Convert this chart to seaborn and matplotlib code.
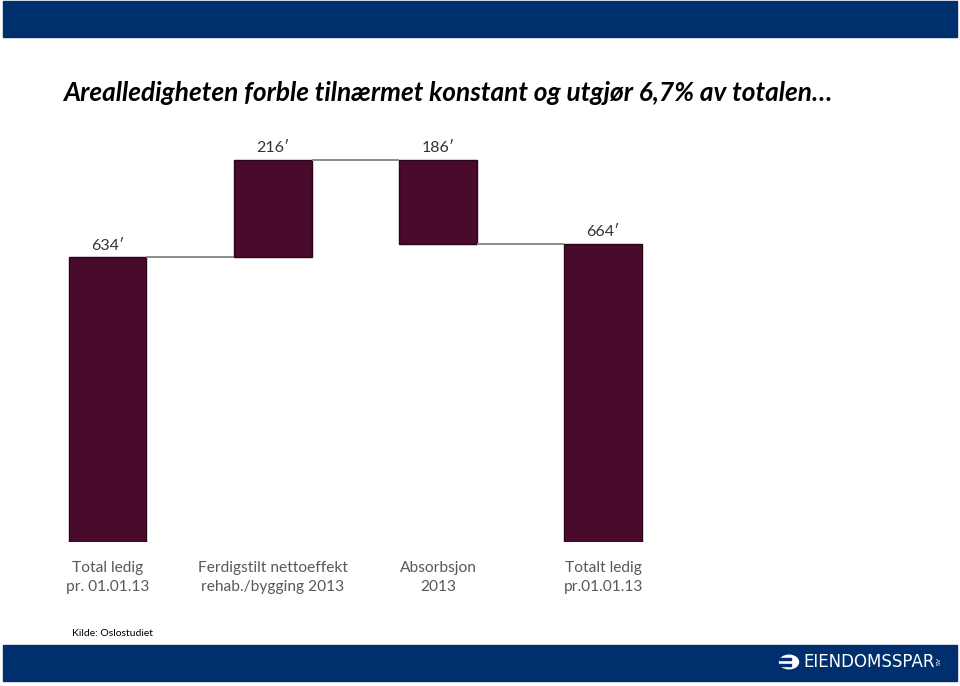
import numpy as np
import pandas as pd
import seaborn as sns
import matplotlib.pyplot as plt
from matplotlib.patches import Rectangle, Circle

# waterfall data (1000 m2)
categories = ["Total ledig\npr. 01.01.13", "Ferdigstilt nettoeffekt\nrehab./bygging 2013",
              "Absorbsjon\n2013", "Totalt ledig\npr.01.01.13"]
changes = [634, 216, -186, 664]
is_total = [True, False, False, True]
value_labels = ["634′", "216′", "186′", "664′"]

title = "Arealledigheten forble tilnærmet konstant og utgjør 6,7% av totalen…"
source = "Kilde: Oslostudiet"

W, H = 960, 686
navy = "#002f6e"
maroon = "#4a0a2c"

sns.set_theme(style="white")
plt.rcParams["font.family"] = ["Lato", "DejaVu Sans"]

# compute bar bottoms / heights
bottoms, heights, levels = [], [], []
running = 0
for c, tot in zip(changes, is_total):
    if tot:
        bottoms.append(0)
        heights.append(c)
        running = c
    else:
        bottoms.append(min(running, running + c))
        heights.append(abs(c))
        running += c
    levels.append(running)

df = pd.DataFrame({"cat": categories, "height": heights, "bottom": bottoms})

fig = plt.figure(figsize=(W / 100, H / 100), dpi=100)

def fx(px):
    return px / W

def fy(py):
    return 1 - py / H

# axes region in pixels
left, right, top_px, base_px = 30, 680, 130, 542
ax = fig.add_axes([fx(left), fy(base_px), fx(right - left), (base_px - top_px) / H])

bw = 0.47
sns.barplot(data=df, x="cat", y="height", bottom=df["bottom"].to_numpy(), color=maroon,
            saturation=1, width=bw, edgecolor="#2a0418", linewidth=1, ax=ax, zorder=2)

# connectors
for i in range(len(categories) - 1):
    ax.plot([i + bw / 2, i + 1 - bw / 2], [levels[i], levels[i]],
            color="#8c8c8c", lw=1.4, zorder=4, solid_capstyle="butt")

# value labels
for i, lab in enumerate(value_labels):
    ax.text(i, bottoms[i] + heights[i] + 10, lab, ha="center", va="bottom",
            fontsize=11.5, color="#333333")

px_per_unit = 285 / 634
ax.set_ylim(0, (base_px - top_px) / px_per_unit)
ax.set_xlim((left - 107.5) / 165.2, (right - 107.5) / 165.2)
ax.set_xlabel("")
ax.set_ylabel("")
ax.set_yticks([])
ax.tick_params(axis="x", length=0, pad=14, labelsize=11.2, labelcolor="#595959")
for t in ax.get_xticklabels():
    t.set_linespacing(1.45)
sns.despine(ax=ax, left=True, bottom=True)

# banners
fig.patches.append(Rectangle((fx(3), fy(37)), fx(954), 36 / H, transform=fig.transFigure,
                             color=navy, zorder=0))
fig.patches.append(Rectangle((fx(3), fy(681)), fx(954), 36 / H, transform=fig.transFigure,
                             color=navy, zorder=0))

fig.text(fx(63), fy(93), title, fontsize=18.9, fontweight="bold", fontstyle="italic",
         color="black", va="center", ha="left")
fig.text(fx(72), fy(634), source, fontsize=7.5, color="black", va="center", ha="left")

# logo
lx, ly = 789, 662
fig.patches.append(Circle((fx(lx), fy(ly)), 9.5 / W, transform=fig.transFigure,
                          color="white", zorder=1))
for dy in (-3, 3):
    fig.patches.append(Rectangle((fx(lx - 10), fy(ly + dy + 1)), fx(12), 2 / H,
                                 transform=fig.transFigure, color=navy, zorder=2))
fig.text(fx(803), fy(662), "EIENDOMSSPAR", fontsize=12, color="white", va="center",
         ha="left", family=["DejaVu Sans"])
fig.text(fx(934), fy(662), "AS", fontsize=4.5, color="white", va="center", ha="left",
         rotation=-90, family=["DejaVu Sans"])

fig.savefig("out.png", dpi=100)
